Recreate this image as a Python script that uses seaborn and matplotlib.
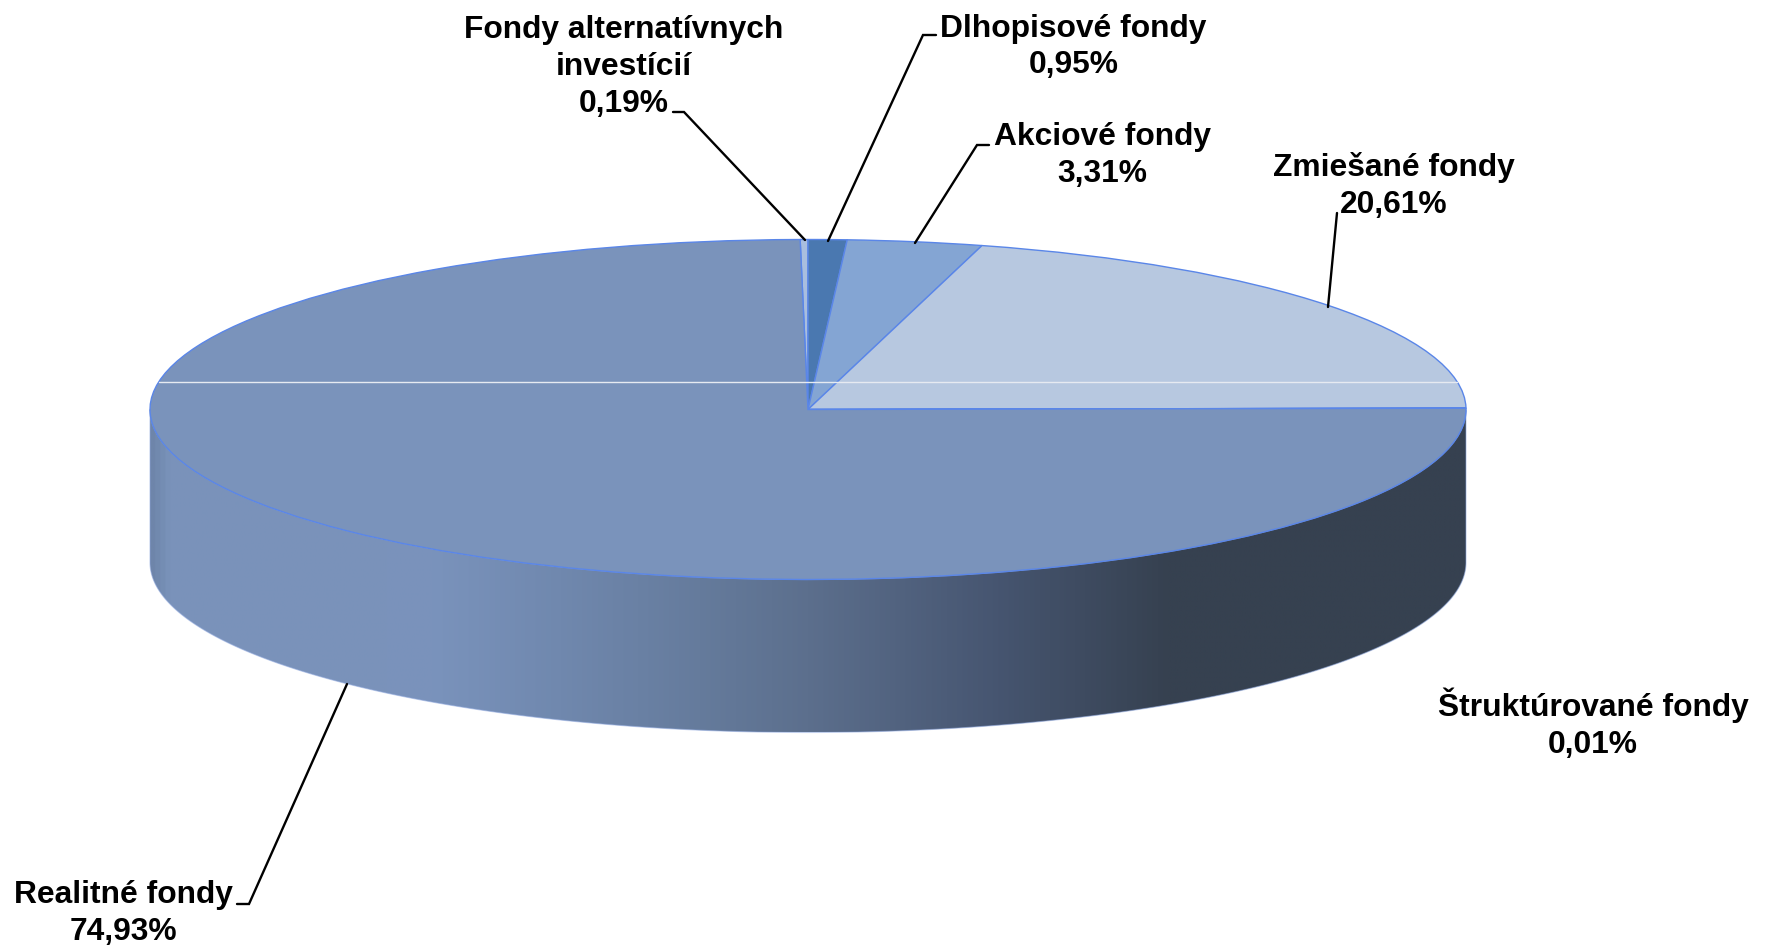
import numpy as np
import matplotlib
matplotlib.use("Agg")
import matplotlib.pyplot as plt
from matplotlib.colors import LinearSegmentedColormap
from matplotlib.patches import Polygon
import seaborn as sns

categories = ["Fondy alternatívnych\ninvestícií", "Dlhopisové fondy", "Akciové fondy",
              "Zmiešané fondy", "Štruktúrované fondy", "Realitné fondy"]
shares = [0.19, 0.95, 3.31, 20.61, 0.01, 74.93]
slice_colors = ["#A9BEDE", "#4A78B0", "#84A5D3", "#B7C8E0", "#7A93BB", "#7A93BB"]

W, H = 1771, 947
CX, CY, RX, RY, DEPTH = 808.0, 409.5, 658.0, 170.0, 153.0

sns.set_theme(style="white")
plt.rcParams["font.family"] = ["Liberation Sans", "DejaVu Sans"]

fig = plt.figure(figsize=(W / 100, H / 100), dpi=100, facecolor="white")
ax = fig.add_axes([0, 0, 1, 1])


def px(x, y):
    """Full-size picture pixel to axes data coordinates (unit pie)."""
    return (np.asarray(x, float) - CX) / RX, (CY - np.asarray(y, float)) / RY


# top face
wedges, _ = ax.pie(shares, colors=sns.color_palette(slice_colors), counterclock=False,
                   startangle=90 + shares[0] * 3.6, radius=1, center=(0, 0),
                   wedgeprops=dict(edgecolor="#5A86E8", linewidth=1.0))
for w in wedges:
    w.set_zorder(5)

xl = px([0, W], [0, 0])[0]
yl = px([0, 0], [H, 0])[1]
ax.set_aspect("auto")

# side wall of the cylinder
d = DEPTH / RY
th = np.linspace(np.pi, 2 * np.pi, 400)
lower = np.column_stack([np.cos(th), np.sin(th) - d])
upper = np.column_stack([np.cos(th[::-1]), np.sin(th[::-1])])
wall = Polygon(np.vstack([lower, upper]), closed=True, facecolor="none",
               edgecolor=(0.56, 0.66, 0.87, 0.55), linewidth=0.8, zorder=3)
ax.add_patch(wall)

stop_px = [150, 168, 340, 430, 560, 700, 808, 1000, 1170, 1466]
stop_col = ["#6E85AA", "#7A93BB", "#7A92BA", "#7A93BC", "#7088AE", "#657B9C",
            "#5C6F8D", "#465570", "#364150", "#364150"]
pos = (np.array(stop_px) - stop_px[0]) / (stop_px[-1] - stop_px[0])
cmap = LinearSegmentedColormap.from_list("side", list(zip(pos, stop_col)))
grad = np.linspace(0, 1, 1024)[None, :]
im = ax.imshow(grad, cmap=cmap, extent=(-1, 1, -1 - d, 0), aspect="auto", zorder=2,
               interpolation="bilinear")
im.set_clip_path(wall)
ax.set_xlim(*xl)
ax.set_ylim(*yl)

# thin pale seam across the top face
seam_y = px(0, 382)[1]
seam_x = np.sqrt(1 - seam_y ** 2)
ax.plot([-seam_x, seam_x], [seam_y, seam_y], color="#E6EAF1", lw=1.0, zorder=6)

# leader lines
leaders = [
    ([673, 684, 805], [112, 112, 240]),
    ([936, 923, 828], [35, 35, 241]),
    ([989, 977, 915], [145, 145, 243]),
    ([1337, 1328], [213, 307]),
    ([237, 249, 347], [904, 904, 684]),
]
for lx, ly in leaders:
    a, b = px(lx, ly)
    ax.plot(a, b, color="black", lw=1.7, zorder=7, solid_joinstyle="miter")

# labels
label_xy = [(623.5, 67), (1073.5, 47), (1102, 155.5), (1393.5, 186), (1593, 723.5), (123, 913.5)]
for name, val, (lx, ly) in zip(categories, shares, label_xy):
    a, b = px(lx, ly)
    ax.text(a, b, f"{name}\n{val:.2f}%".replace(".", ","), ha="center", va="center",
            fontsize=22.9, fontweight="bold", color="black", linespacing=1.3, zorder=8)

fig.savefig("out.png", dpi=100, facecolor="white")
